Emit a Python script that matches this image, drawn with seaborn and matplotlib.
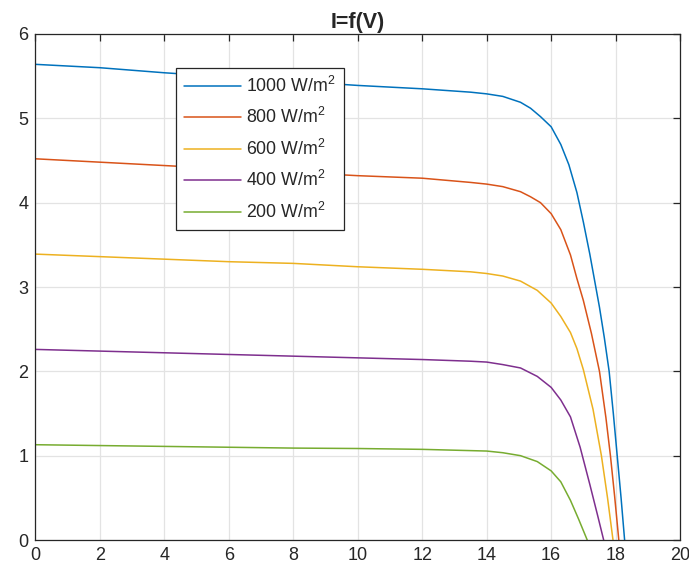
import numpy as np
import pandas as pd
import matplotlib
matplotlib.use("Agg")
import matplotlib.pyplot as plt
import seaborn as sns

# --- data (V in volts, I in amperes) ---
v_1000 = [0, 2, 4, 6, 8, 10, 12, 13.5, 14, 14.5, 15.05, 15.36, 15.67, 16.0, 16.3, 16.55, 16.8, 17.0, 17.2, 17.4,
          17.5, 17.65, 17.8, 17.93, 18.05, 18.17, 18.28]
i_1000 = [5.64, 5.60, 5.54, 5.49, 5.44, 5.39, 5.35, 5.31, 5.29, 5.26, 5.19, 5.12, 5.02, 4.90, 4.69, 4.45, 4.12, 3.77, 3.39, 2.97,
          2.76, 2.40, 2.0, 1.50, 1.0, 0.50, 0.0]

v_800 = [0, 2, 4, 6, 8, 10, 12, 13.5, 14, 14.5, 15.05, 15.36, 15.67, 16.0, 16.3, 16.6, 16.8, 17.0, 17.25,
         17.5, 17.7, 17.84, 17.97, 18.10]
i_800 = [4.52, 4.48, 4.44, 4.40, 4.36, 4.32, 4.29, 4.24, 4.22, 4.19, 4.13, 4.07, 4.00, 3.87, 3.68, 3.38, 3.10, 2.84, 2.45,
         2.0, 1.45, 1.0, 0.52, 0.0]

v_600 = [0, 2, 4, 6, 8, 10, 12, 13.5, 14, 14.5, 15.05, 15.57, 16.0, 16.3, 16.6, 16.8, 17.0, 17.3, 17.56, 17.75, 17.92]
i_600 = [3.39, 3.36, 3.33, 3.30, 3.28, 3.24, 3.21, 3.18, 3.16, 3.13, 3.07, 2.96, 2.81, 2.65, 2.46, 2.27, 2.02, 1.55, 1.0, 0.5, 0.0]

v_400 = [0, 2, 4, 6, 8, 10, 12, 13.5, 14, 14.5, 15.05, 15.57, 16.0, 16.3, 16.6, 16.9, 17.2, 17.45, 17.63]
i_400 = [2.26, 2.24, 2.22, 2.20, 2.18, 2.16, 2.14, 2.12, 2.11, 2.08, 2.04, 1.94, 1.81, 1.66, 1.46, 1.10, 0.66, 0.28, 0.0]

v_200 = [0, 2, 4, 6, 8, 10, 12, 13.5, 14, 14.5, 15.05, 15.57, 16.0, 16.3, 16.6, 16.85, 17.12]
i_200 = [1.13, 1.12, 1.11, 1.10, 1.09, 1.085, 1.075, 1.06, 1.055, 1.035, 1.0, 0.93, 0.82, 0.69, 0.47, 0.25, 0.0]

labels = ['1000 W/m$^2$', '800 W/m$^2$', '600 W/m$^2$', '400 W/m$^2$', '200 W/m$^2$']
colors = ['#0072BD', '#D95319', '#EDB120', '#7E2F8E', '#77AC30']

series = [(v_1000, i_1000), (v_800, i_800), (v_600, i_600), (v_400, i_400), (v_200, i_200)]
frames = []
for lab, (v, i) in zip(labels, series):
    frames.append(pd.DataFrame({'V': v, 'I': i, 'G': lab}))
df = pd.concat(frames, ignore_index=True)

sns.set_style("whitegrid")
plt.rcParams['font.family'] = ['Liberation Sans', 'DejaVu Sans']
plt.rcParams['mathtext.fontset'] = 'custom'
plt.rcParams['mathtext.rm'] = 'Liberation Sans'
plt.rcParams['mathtext.it'] = 'Liberation Sans'

fig = plt.figure(figsize=(6.89, 5.74), dpi=100)
ax = fig.add_axes([0.0515, 0.0592, 0.9355, 0.8816])

sns.lineplot(data=df, x='V', y='I', hue='G', palette=colors, hue_order=labels,
             sort=False, estimator=None, linewidth=1.1, ax=ax)

ax.set_xlim(0, 20)
ax.set_ylim(0, 6)
ax.set_xticks(np.arange(0, 21, 2))
ax.set_yticks(np.arange(0, 7, 1))
ax.set_xlabel('')
ax.set_ylabel('')
ax.set_title('I=f(V)', fontsize=15.5, fontweight='bold', pad=4)

ax.grid(True, color='#e3e3e3', linewidth=0.9)
for s in ax.spines.values():
    s.set_visible(True)
    s.set_color('#262626')
    s.set_linewidth(0.9)
ax.tick_params(direction='in', top=True, right=True, length=5, width=0.9,
               colors='#262626', labelsize=13, labelcolor='#262626', pad=5)

leg = ax.legend(loc='upper left', bbox_to_anchor=(0.218, 0.933), fontsize=12.8,
                frameon=True, fancybox=False, edgecolor='#262626', framealpha=1,
                handlelength=3.2, handletextpad=0.3, labelspacing=0.64,
                borderpad=0.45, borderaxespad=0)
leg.get_frame().set_linewidth(0.9)

fig.savefig('out.png', dpi=100)
